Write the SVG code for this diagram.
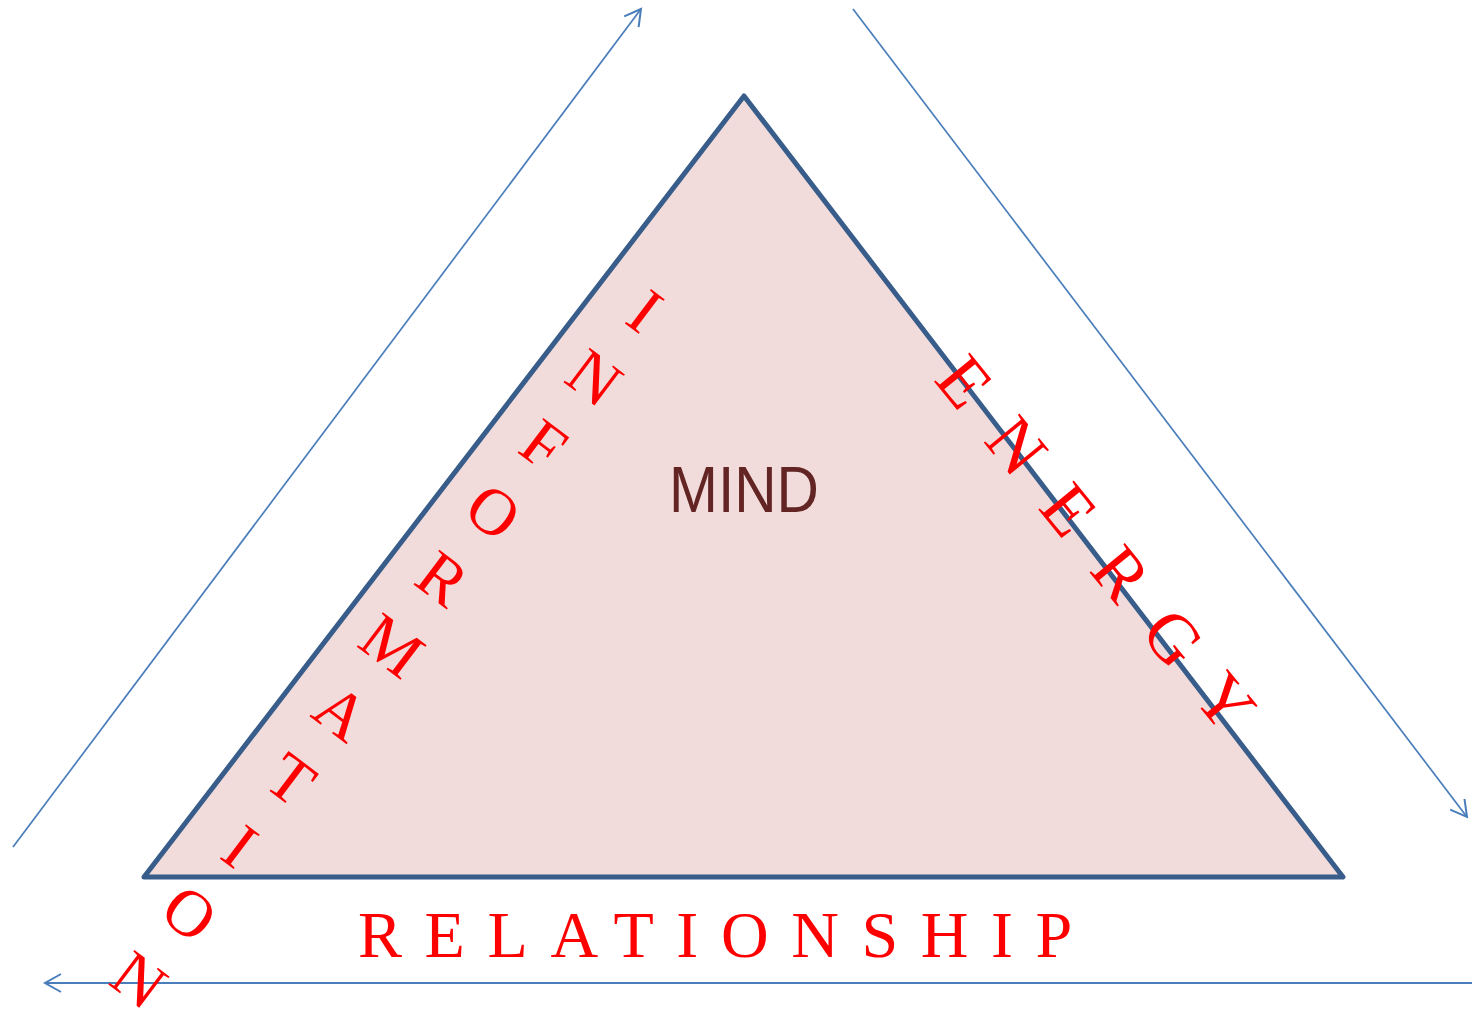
<svg xmlns="http://www.w3.org/2000/svg" width="1474" height="1011" viewBox="0 0 1474 1011">
<style>
.red{font-family:"Liberation Serif",serif;font-size:66px;fill:#FF0000;text-anchor:middle}
.big{font-size:70px}
.conn{stroke:#4A7EBB;stroke-width:1.7;fill:none}
</style>
<defs>
<marker id="arr" markerUnits="userSpaceOnUse" viewBox="0 0 20 20" markerWidth="20" markerHeight="20" refX="17" refY="10" orient="auto">
<path d="M1,1 L17,10 L1,19" fill="none" stroke="#4A7EBB" stroke-width="2"/>
</marker>
</defs>
<rect width="1474" height="1011" fill="#FFFFFF"/>
<g id="connectors">
<line class="conn" x1="13" y1="847" x2="641" y2="9" marker-end="url(#arr)"/>
<line class="conn" x1="853" y1="9" x2="1467" y2="817" marker-end="url(#arr)"/>
<line class="conn" x1="1472" y1="983" x2="45" y2="983" marker-end="url(#arr)" style="stroke-width:2"/>
</g>
<g id="mind">
<polygon points="744,96 1343,877 144,877" fill="#F2DCDB" stroke="#385D8A" stroke-width="5" stroke-linejoin="round"/>
<text x="744" y="512" font-family="Liberation Sans, sans-serif" font-size="64" fill="#632523" text-anchor="middle" textLength="150" lengthAdjust="spacingAndGlyphs">MIND</text>
</g>
<g id="information" transform="translate(645,311) rotate(37.1)">
<text class="red" x="0" y="22">I</text>
<text class="red" x="0" y="105.9">N</text>
<text class="red" x="0" y="189.8">F</text>
<text class="red" x="0" y="273.7">O</text>
<text class="red" x="0" y="357.6">R</text>
<text class="red" x="0" y="441.5">M</text>
<text class="red" x="0" y="525.4">A</text>
<text class="red" x="0" y="609.3">T</text>
<text class="red" x="0" y="693.2">I</text>
<text class="red" x="0" y="777.1">O</text>
<text class="red" x="0" y="861">N</text>
</g>
<g id="energy" transform="translate(964,382) rotate(50.8)">
<text class="red big" x="0" y="23">E</text>
<text class="red big" x="82.6" y="23">N</text>
<text class="red big" x="165.2" y="23">E</text>
<text class="red big" x="247.8" y="23">R</text>
<text class="red big" x="330.4" y="23">G</text>
<text class="red big" x="413" y="23">Y</text>
</g>
<g id="relationship">
<text x="358" y="957" font-family="Liberation Serif, serif" font-size="66" fill="#FF0000" letter-spacing="22.6">RELATIONSHIP</text>
</g>
</svg>
